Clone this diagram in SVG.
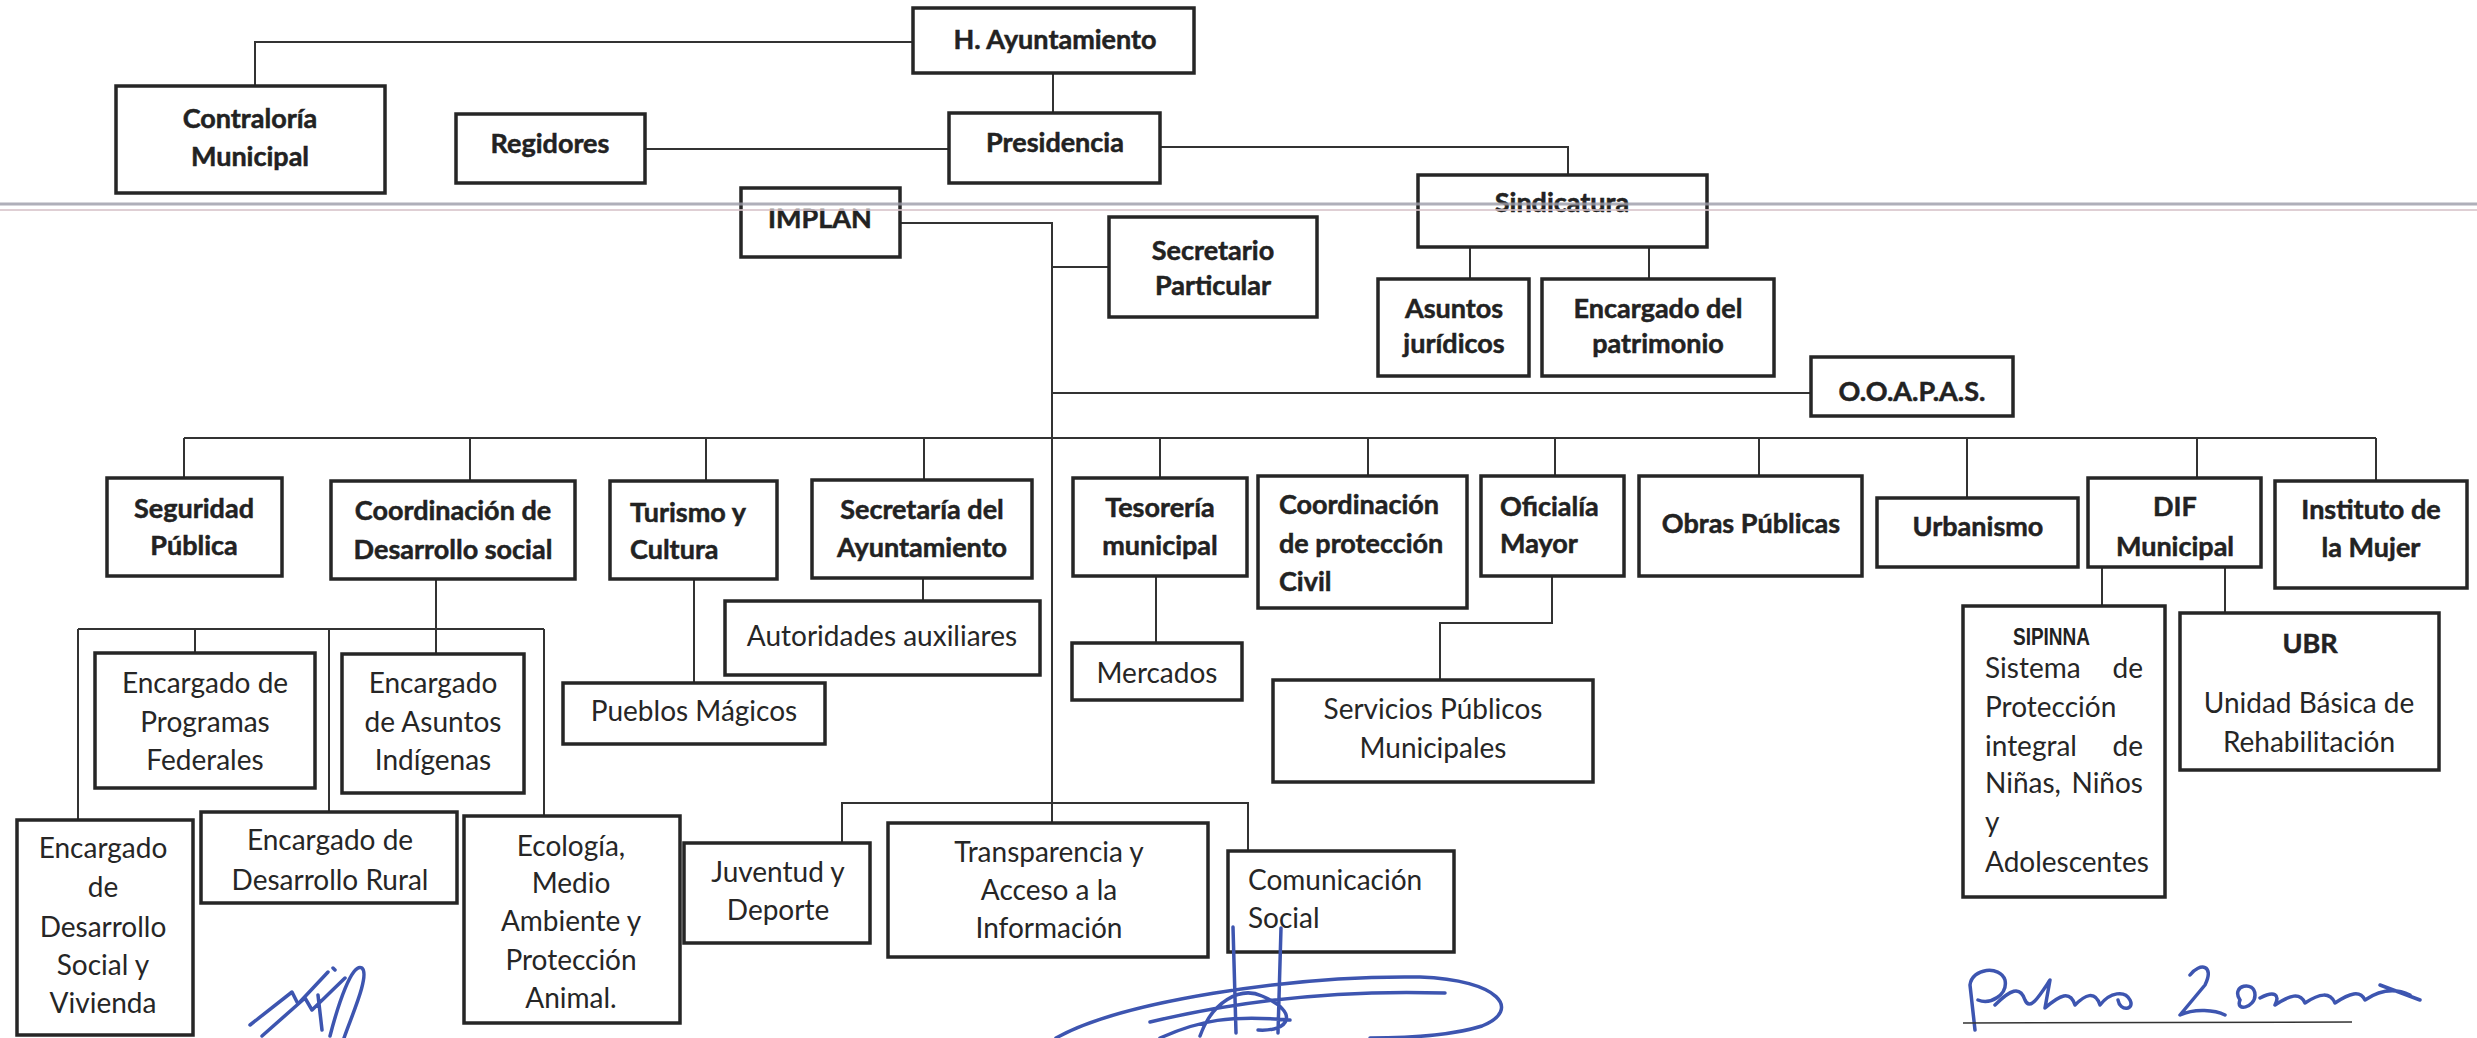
<svg xmlns="http://www.w3.org/2000/svg" width="2477" height="1038" viewBox="0 0 2477 1038">
<style>
.box{fill:#fff;stroke:#262626;stroke-width:3.5}
.ln{fill:none;stroke:#333;stroke-width:2}
.b{font-family:Lato,"Liberation Sans",sans-serif;font-weight:700;font-size:27px;fill:#222;stroke:#222;stroke-width:0.5}
.r{font-family:Lato,"Liberation Sans",sans-serif;font-weight:400;font-size:28px;fill:#262626}
.n{font-family:"Liberation Sans",sans-serif;font-weight:700;font-size:24px;fill:#222}
.m{text-anchor:middle}
.e{text-anchor:end}
.sig{fill:none;stroke:#3d55b0;stroke-width:3.5;stroke-linecap:round;stroke-linejoin:round}
.scan1{stroke:#9c9ca8;stroke-width:3;opacity:0.8}
.scan2{stroke:#d8c4ca;stroke-width:2;opacity:0.8}
</style>
<rect width="2477" height="1038" fill="#fff"/>
<g id="connectors">
<path class="ln" d="M913,42 H255 V86"/>
<path class="ln" d="M1053,73 V113"/>
<path class="ln" d="M645,149 H949"/>
<path class="ln" d="M1160,147 H1568 V175"/>
<path class="ln" d="M900,223 H1052 V823"/>
<path class="ln" d="M1052,267 H1109"/>
<path class="ln" d="M1470,247 V279 M1649,247 V279"/>
<path class="ln" d="M1052,393 H1811"/>
<path class="ln" d="M184,438 H2376"/>
<path class="ln" d="M184,438 V478 M470,438 V481 M706,438 V481 M924,438 V480 M1160,438 V478 M1368,438 V476 M1555,438 V476 M1759,438 V476 M1967,438 V498 M2197,438 V478 M2376,438 V481"/>
<path class="ln" d="M436,579 V629 M78,629 H544 M78,629 V820 M195,629 V653 M329,629 V812 M436,629 V654 M544,629 V816"/>
<path class="ln" d="M694,579 V683"/>
<path class="ln" d="M923,578 V601"/>
<path class="ln" d="M1156,576 V643"/>
<path class="ln" d="M1552,576 V623 H1440 V680"/>
<path class="ln" d="M2102,567 V606 M2225,567 V613"/>
<path class="ln" d="M842,843 V803 H1248 V851"/>
</g>
<g id="ayuntamiento"><rect class="box" x="913" y="8" width="281" height="65"/><text class="b m" x="1055" y="49">H. Ayuntamiento</text></g>
<g id="contraloria"><rect class="box" x="116" y="86" width="269" height="107"/><text class="b m" x="250" y="128">Contraloría</text><text class="b m" x="250" y="166">Municipal</text></g>
<g id="regidores"><rect class="box" x="456" y="114" width="189" height="69"/><text class="b m" x="550" y="153">Regidores</text></g>
<g id="presidencia"><rect class="box" x="949" y="113" width="211" height="70"/><text class="b m" x="1055" y="152">Presidencia</text></g>
<g id="implan"><rect class="box" x="741" y="188" width="159" height="69"/><text class="b m" x="820" y="228">IMPLAN</text></g>
<g id="secretario"><rect class="box" x="1109" y="217" width="208" height="100"/><text class="b m" x="1213" y="260">Secretario</text><text class="b m" x="1213" y="295">Particular</text></g>
<g id="sindicatura"><rect class="box" x="1418" y="175" width="289" height="72"/><text class="b m" x="1562" y="212">Sindicatura</text></g>
<g id="asuntos"><rect class="box" x="1378" y="279" width="151" height="97"/><text class="b m" x="1454" y="318">Asuntos</text><text class="b m" x="1454" y="353">jurídicos</text></g>
<g id="patrimonio"><rect class="box" x="1542" y="279" width="232" height="97"/><text class="b m" x="1658" y="318">Encargado del</text><text class="b m" x="1658" y="353">patrimonio</text></g>
<g id="ooapas"><rect class="box" x="1811" y="357" width="202" height="59"/><text class="b m" x="1912" y="401">O.O.A.P.A.S.</text></g>
<g id="seguridad"><rect class="box" x="107" y="478" width="175" height="98"/><text class="b m" x="194" y="518">Seguridad</text><text class="b m" x="194" y="555">Pública</text></g>
<g id="coord-desarrollo"><rect class="box" x="331" y="481" width="244" height="98"/><text class="b m" x="453" y="520">Coordinación de</text><text class="b m" x="453" y="559">Desarrollo social</text></g>
<g id="turismo"><rect class="box" x="610" y="481" width="167" height="98"/><text class="b" x="630" y="522">Turismo y</text><text class="b" x="630" y="559">Cultura</text></g>
<g id="secretaria-ayuntamiento"><rect class="box" x="812" y="480" width="220" height="98"/><text class="b m" x="922" y="519">Secretaría del</text><text class="b m" x="922" y="557">Ayuntamiento</text></g>
<g id="tesoreria"><rect class="box" x="1073" y="478" width="174" height="98"/><text class="b m" x="1160" y="517">Tesorería</text><text class="b m" x="1160" y="555">municipal</text></g>
<g id="proteccion-civil"><rect class="box" x="1258" y="476" width="209" height="132"/><text class="b" x="1279" y="514">Coordinación</text><text class="b" x="1279" y="553">de protección</text><text class="b" x="1279" y="591">Civil</text></g>
<g id="oficialia"><rect class="box" x="1481" y="476" width="143" height="100"/><text class="b" x="1500" y="516">Oficialía</text><text class="b" x="1500" y="553">Mayor</text></g>
<g id="obras"><rect class="box" x="1639" y="476" width="223" height="100"/><text class="b m" x="1751" y="533">Obras Públicas</text></g>
<g id="urbanismo"><rect class="box" x="1877" y="498" width="201" height="69"/><text class="b m" x="1978" y="536">Urbanismo</text></g>
<g id="dif"><rect class="box" x="2088" y="478" width="173" height="89"/><text class="b m" x="2175" y="516">DIF</text><text class="b m" x="2175" y="556">Municipal</text></g>
<g id="instituto"><rect class="box" x="2275" y="481" width="192" height="107"/><text class="b m" x="2371" y="519">Instituto de</text><text class="b m" x="2371" y="557">la Mujer</text></g>
<g id="programas"><rect class="box" x="95" y="653" width="220" height="135"/><text class="r m" x="205" y="693">Encargado de</text><text class="r m" x="205" y="732">Programas</text><text class="r m" x="205" y="770">Federales</text></g>
<g id="indigenas"><rect class="box" x="342" y="654" width="182" height="139"/><text class="r m" x="433" y="693">Encargado</text><text class="r m" x="433" y="732">de Asuntos</text><text class="r m" x="433" y="770">Indígenas</text></g>
<g id="vivienda"><rect class="box" x="17" y="820" width="176" height="215"/><text class="r m" x="103" y="858">Encargado</text><text class="r m" x="103" y="897">de</text><text class="r m" x="103" y="937">Desarrollo</text><text class="r m" x="103" y="975">Social y</text><text class="r m" x="103" y="1013">Vivienda</text></g>
<g id="rural"><rect class="box" x="201" y="812" width="256" height="91"/><text class="r m" x="330" y="850">Encargado de</text><text class="r m" x="330" y="890">Desarrollo Rural</text></g>
<g id="ecologia"><rect class="box" x="464" y="816" width="216" height="207"/><text class="r m" x="571" y="856">Ecología,</text><text class="r m" x="571" y="893">Medio</text><text class="r m" x="571" y="931">Ambiente y</text><text class="r m" x="571" y="970">Protección</text><text class="r m" x="571" y="1008">Animal.</text></g>
<g id="pueblos"><rect class="box" x="563" y="683" width="262" height="61"/><text class="r m" x="694" y="721">Pueblos Mágicos</text></g>
<g id="autoridades"><rect class="box" x="725" y="601" width="315" height="74"/><text class="r m" x="882" y="646">Autoridades auxiliares</text></g>
<g id="mercados"><rect class="box" x="1072" y="643" width="170" height="57"/><text class="r m" x="1157" y="683">Mercados</text></g>
<g id="servicios"><rect class="box" x="1273" y="680" width="320" height="102"/><text class="r m" x="1433" y="719">Servicios Públicos</text><text class="r m" x="1433" y="758">Municipales</text></g>
<g id="sipinna"><rect class="box" x="1963" y="606" width="202" height="291"/>
<text class="n" x="2013" y="645" textLength="77" lengthAdjust="spacingAndGlyphs">SIPINNA</text>
<text class="r" x="1985" y="678">Sistema</text><text class="r e" x="2143" y="678">de</text>
<text class="r" x="1985" y="717">Protección</text>
<text class="r" x="1985" y="756">integral</text><text class="r e" x="2143" y="756">de</text>
<text class="r" x="1985" y="793">Niñas,</text><text class="r e" x="2143" y="793">Niños</text>
<text class="r" x="1985" y="832">y</text>
<text class="r" x="1985" y="872">Adolescentes</text></g>
<g id="ubr"><rect class="box" x="2180" y="613" width="259" height="157"/><text class="b m" x="2310" y="653">UBR</text><text class="r m" x="2309" y="713">Unidad Básica de</text><text class="r m" x="2309" y="752">Rehabilitación</text></g>
<g id="juventud"><rect class="box" x="684" y="843" width="186" height="100"/><text class="r m" x="778" y="882">Juventud y</text><text class="r m" x="778" y="920">Deporte</text></g>
<g id="transparencia"><rect class="box" x="888" y="823" width="320" height="134"/><text class="r m" x="1049" y="862">Transparencia y</text><text class="r m" x="1049" y="900">Acceso a la</text><text class="r m" x="1049" y="938">Información</text></g>
<g id="comunicacion"><rect class="box" x="1228" y="851" width="226" height="101"/><text class="r" x="1248" y="890">Comunicación</text><text class="r" x="1248" y="928">Social</text></g>
<g id="scan">
<line class="scan1" x1="0" y1="204" x2="2477" y2="204"/>
<line class="scan2" x1="0" y1="210" x2="2477" y2="210"/>
</g>
<g id="signatures">
<path class="sig" d="M250,1025 L292,992 L298,1004 L328,972 M262,1036 L305,998 L312,1010 L345,978 M330,1036 C338,1005 352,962 362,968 C370,975 352,1015 344,1038 M318,995 L322,1030 M333,968 l2,2"/>
<path class="sig" d="M1056,1038 C1120,1002 1290,975 1420,977 C1500,980 1522,1010 1482,1026 C1450,1036 1400,1038 1370,1038 M1150,1022 C1250,998 1350,990 1445,993 M1233,927 L1236,1033 M1281,928 L1278,1033 M1200,1036 C1212,1002 1240,986 1262,996 C1300,1012 1290,1032 1258,1030 M1160,1038 C1200,1020 1230,1015 1290,1020"/>
<path class="sig" d="M1975,1030 L1970,985 C1972,968 2000,965 2005,980 C2008,995 1990,1005 1978,1000 M1995,1005 C2010,990 2020,985 2025,1000 C2030,1012 2040,995 2050,980 L2045,1008 C2060,995 2070,990 2075,1005 C2085,995 2095,990 2100,1005 C2110,992 2125,990 2130,1000 C2135,1010 2120,1012 2118,1000 M2190,975 C2200,962 2215,965 2205,985 L2180,1015 C2195,1008 2215,1010 2225,1015 M2240,1000 C2230,985 2255,980 2255,995 C2255,1008 2235,1012 2240,1000 M2260,998 C2275,990 2280,995 2275,1005 C2290,995 2300,992 2305,1003 C2320,993 2330,992 2335,1003 C2350,993 2360,990 2365,1000 C2380,990 2395,988 2410,995 M2380,985 L2420,1000"/>
<line x1="1963" y1="1023" x2="2352" y2="1022" stroke="#333" stroke-width="1.5"/>
</g>
</svg>
